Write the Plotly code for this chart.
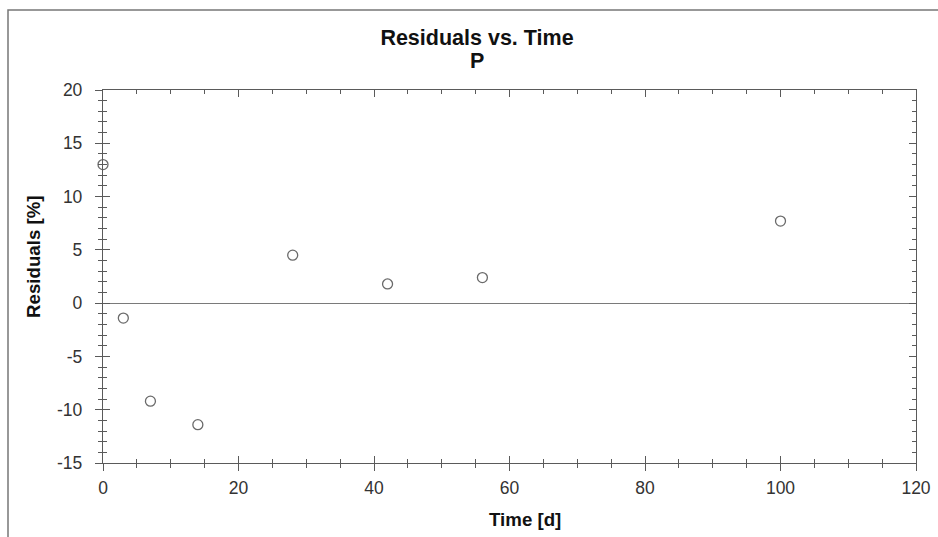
import plotly.graph_objects as go

# residuals
time_d = [0, 3, 7, 14, 28, 42, 56, 100]
residuals_pct = [13.0, -1.4, -9.2, -11.4, 4.5, 1.8, 2.4, 7.7]

x_ticks = [0, 20, 40, 60, 80, 100, 120]
y_ticks = [-15, -10, -5, 0, 5, 10, 15, 20]
y_ticktext = [str(v) for v in y_ticks]  # plain hyphen, not unicode minus

W, H = 938, 537
L, R, T, B = 103, 22, 90, 74
pw, ph = W - L - R, H - T - B

axis_col = "#5a5a5a"
font_fam = "Arial, Liberation Sans, sans-serif"

fig = go.Figure()

fig.add_trace(go.Scatter(
    x=time_d, y=residuals_pct,
    mode="markers",
    marker=dict(symbol="circle-open", size=10, color="#6a6a6a", line=dict(width=1.3)),
    cliponaxis=False,
    showlegend=False,
))

# invisible trace so the overlay axes (inside ticks) get drawn
fig.add_trace(go.Scatter(
    x=time_d, y=residuals_pct, xaxis="x2", yaxis="y2",
    mode="markers", marker=dict(opacity=0), hoverinfo="skip", showlegend=False,
))

common = dict(
    showline=True, linecolor=axis_col, linewidth=1.3,
    showgrid=False, tickcolor=axis_col, tickwidth=1.2, automargin=False,
)

fig.update_layout(
    width=W, height=H,
    margin=dict(l=L, r=R, t=T, b=B),
    paper_bgcolor="white", plot_bgcolor="white",
    font=dict(family=font_fam, size=17.5, color="#333333"),
    title=dict(
        text="<b>Residuals vs. Time</b>",
        x=477 / W, xref="container", xanchor="center",
        y=1 - 37 / H, yref="container", yanchor="middle",
        font=dict(size=21.5, color="#111111"),
    ),
    xaxis=dict(
        range=[0, 120], tickvals=x_ticks, ticks="outside", ticklen=7,
        mirror=True, zeroline=False,
        minor=dict(dtick=5, ticks="outside", ticklen=4, tickcolor=axis_col),
        ticklabelstandoff=2,
        **common,
    ),
    yaxis=dict(
        range=[-15, 20], tickvals=y_ticks, ticktext=y_ticktext,
        ticks="outside", ticklen=7,
        mirror=True, zeroline=True, zerolinecolor="#7a7a7a", zerolinewidth=1.2,
        minor=dict(dtick=1, ticks="outside", ticklen=4, tickcolor=axis_col),
        ticklabelstandoff=9,
        **common,
    ),
    xaxis2=dict(
        range=[0, 120], tickvals=x_ticks, ticks="inside", ticklen=7,
        overlaying="x", anchor="y2", side="bottom", mirror="allticks",
        showticklabels=False, zeroline=False,
        minor=dict(dtick=5, ticks="inside", ticklen=4, tickcolor=axis_col),
        **common,
    ),
    yaxis2=dict(
        range=[-15, 20], tickvals=y_ticks, ticks="inside", ticklen=7,
        overlaying="y", anchor="x2", side="left", mirror="allticks",
        showticklabels=False, zeroline=False,
        minor=dict(dtick=1, ticks="inside", ticklen=4, tickcolor=axis_col),
        **common,
    ),
)

# second title line
fig.add_annotation(
    text="<b>P</b>", xref="paper", yref="paper",
    x=(477 - L) / pw, y=(H - B - 60.5) / ph, xanchor="center", yanchor="middle",
    showarrow=False, font=dict(size=21.5, color="#111111"),
)

# axis titles
fig.add_annotation(
    text="<b>Time [d]</b>", xref="paper", yref="paper",
    x=(525 - L) / pw, y=(H - B - 519) / ph, xanchor="center", yanchor="middle",
    showarrow=False, font=dict(size=18.7, color="#111111"),
)
fig.add_annotation(
    text="<b>Residuals [%]</b>", xref="paper", yref="paper",
    x=(33 - L) / pw, y=(H - B - 257) / ph, xanchor="center", yanchor="middle",
    textangle=-90, showarrow=False, font=dict(size=18.7, color="#111111"),
)

# outer frame (only its left and top edges fall inside the picture)
fig.add_shape(
    type="rect", xref="paper", yref="paper",
    x0=(8 - L) / pw, x1=(W + 20 - L) / pw,
    y0=(H - B - 10) / ph, y1=(H - B - H - 20) / ph,
    line=dict(color="#777777", width=1.5), layer="below",
)

# drop the browser's default body margin so the figure sits at (0, 0)
fig.write_html(
    "out.html",
    config={"displayModeBar": False},
    post_script="document.body.style.margin='0';",
)
